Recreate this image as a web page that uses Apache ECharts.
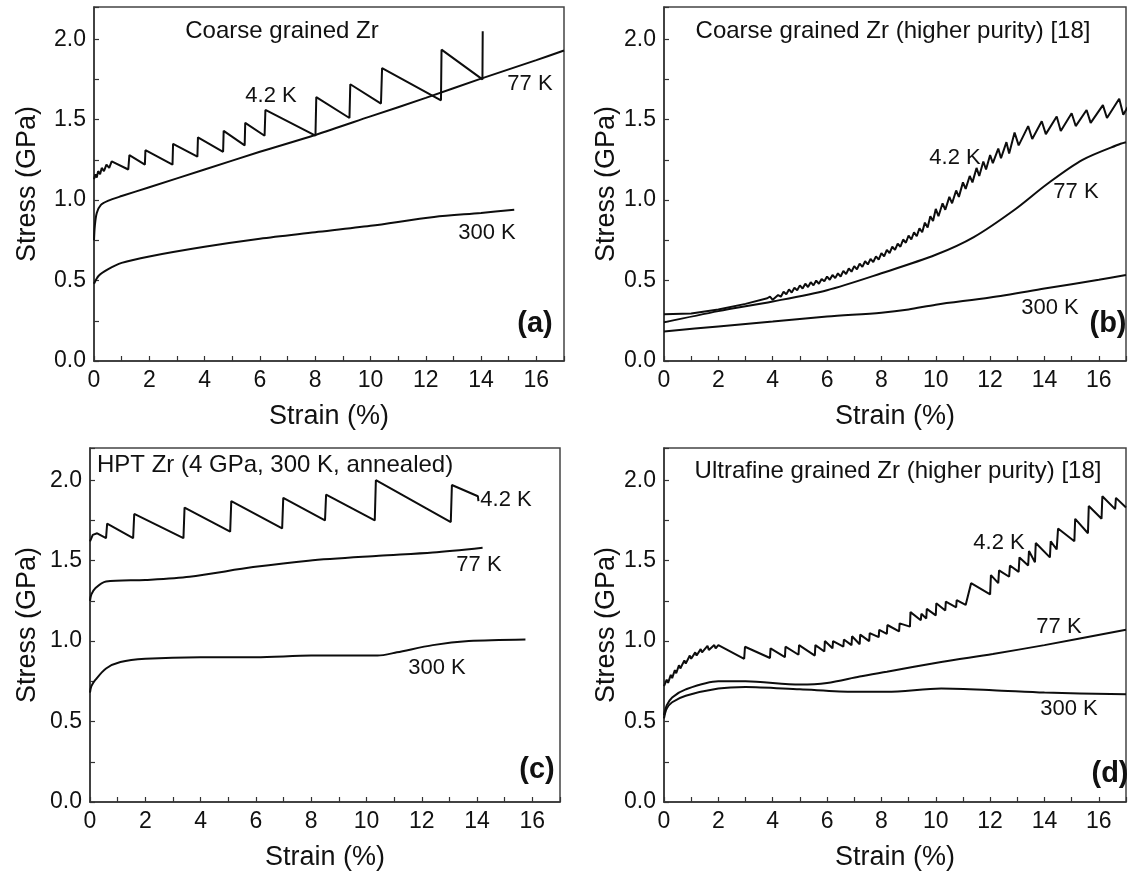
<!DOCTYPE html>
<html>
<head>
<meta charset="utf-8">
<script src="https://cdn.jsdelivr.net/npm/echarts@6/dist/echarts.min.js"></script>
<style>
  html, body { margin: 0; padding: 0; background: #fff; }
  #main { width: 1129px; height: 877px; }
</style>
</head>
<body>
<div id="main"></div>
<script>
// (a) coarse grained Zr
var a300 = [[0,0.48],[0.17,0.53],[0.5,0.57],[1,0.61],[2,0.65],[4,0.71],[6,0.76],[8,0.8],[10,0.84],[12.3,0.895],[14,0.92],[15.2,0.94]];
var a77 = [[0,0.75],[0.03,0.84],[0.1,0.92],[0.25,0.97],[0.5,0.995],[1,1.025],[2,1.08],[4,1.19],[6,1.3],[8,1.405],[10,1.52],[12,1.635],[14,1.755],[16,1.87],[17,1.93]];
var a4K = [[0,1.13],[0.05,1.16],[0.1,1.14],[0.15,1.18],[0.22,1.16],[0.28,1.2],[0.36,1.18],[0.45,1.22],[0.55,1.2],[0.64,1.24],[1.24,1.19],[1.28,1.28],[1.84,1.22],[1.86,1.31],[2.84,1.22],[2.86,1.35],[3.74,1.27],[3.76,1.39],[4.67,1.3],[4.69,1.43],[5.45,1.34],[5.47,1.48],[6.17,1.4],[6.2,1.56],[8.01,1.4],[8.04,1.64],[9.24,1.51],[9.27,1.72],[10.38,1.6],[10.42,1.82],[12.55,1.62],[12.57,1.935],[14.05,1.75],[14.06,2.05]];

// (b) coarse grained Zr, higher purity
var b300 = [[0,0.183],[2,0.215],[4,0.245],[6,0.276],[8,0.3],[9,0.32],[10,0.35],[12,0.395],[14,0.45],[16,0.505],[17,0.535]];
var b77 = [[0,0.24],[2,0.31],[4,0.37],[6,0.44],[8,0.545],[10,0.66],[11.4,0.77],[12.9,0.94],[14.1,1.1],[15.4,1.25],[16.8,1.35],[17,1.36]];
var b4K = [[0,0.29],[1,0.295],[2,0.32],[3,0.355],[3.8,0.39],[3.9,0.4],[4,0.38],[4.2,0.41],[4.3,0.4],[4.4,0.43],[4.5,0.415],[4.6,0.445],[4.7,0.425],[4.8,0.455],[4.9,0.44],[5,0.47],[5.1,0.45],[5.2,0.48],[5.3,0.46],[5.4,0.49],[5.5,0.47],[5.6,0.5],[5.7,0.48],[5.8,0.51],[5.9,0.495],[6,0.525],[6.1,0.505],[6.2,0.535],[6.3,0.515],[6.4,0.545],[6.5,0.525],[6.6,0.56],[6.7,0.54],[6.8,0.575],[6.9,0.555],[7,0.59],[7.1,0.57],[7.2,0.605],[7.3,0.585],[7.4,0.62],[7.5,0.6],[7.6,0.635],[7.7,0.615],[7.8,0.65],[7.9,0.63],[8,0.67],[8.1,0.65],[8.2,0.69],[8.3,0.67],[8.4,0.71],[8.5,0.69],[8.6,0.73],[8.7,0.71],[8.8,0.755],[8.9,0.735],[9,0.78],[9.1,0.755],[9.2,0.8],[9.3,0.775],[9.4,0.825],[9.5,0.8],[9.6,0.86],[9.7,0.83],[9.8,0.9],[9.9,0.87],[10,0.945],[10.1,0.9],[10.25,0.98],[10.35,0.94],[10.5,1.02],[10.6,0.98],[10.75,1.06],[10.85,1.02],[11,1.11],[11.1,1.07],[11.25,1.15],[11.35,1.11],[11.5,1.2],[11.6,1.15],[11.75,1.24],[11.85,1.19],[12,1.28],[12.1,1.23],[12.3,1.32],[12.4,1.26],[12.6,1.36],[12.7,1.29],[12.9,1.42],[13.05,1.34],[13.4,1.46],[13.55,1.38],[13.9,1.49],[14.05,1.41],[14.45,1.52],[14.6,1.43],[15,1.54],[15.15,1.46],[15.55,1.56],[15.7,1.48],[16.15,1.59],[16.3,1.51],[16.75,1.63],[16.9,1.53],[17.2,1.62]];

// (c) HPT Zr
var c300 = [[0,0.68],[0.05,0.72],[0.2,0.76],[0.58,0.83],[1.1,0.87],[2,0.89],[4,0.9],[6,0.9],[8,0.91],[10.4,0.91],[11.1,0.93],[12.4,0.975],[13.7,1],[15.75,1.01]];
var c77 = [[0,1.25],[0.05,1.29],[0.2,1.33],[0.58,1.37],[2,1.38],[3.6,1.4],[5.9,1.46],[7.9,1.5],[10.45,1.53],[12.4,1.55],[14.2,1.58]];
var c4K = [[0,1.62],[0.1,1.66],[0.26,1.67],[0.58,1.64],[0.62,1.73],[1.56,1.64],[1.6,1.79],[3.38,1.64],[3.42,1.83],[5.07,1.68],[5.11,1.87],[6.95,1.7],[6.99,1.89],[8.5,1.75],[8.54,1.91],[10.3,1.75],[10.34,2],[13.05,1.74],[13.09,1.97],[14.03,1.9],[14.05,1.87]];

// (d) ultrafine grained Zr
var d300 = [[0,0.52],[0.1,0.58],[0.3,0.62],[0.8,0.66],[2,0.705],[3,0.715],[5,0.7],[7,0.685],[8.2,0.685],[10.2,0.705],[12.1,0.695],[14,0.68],[17,0.67]];
var d77 = [[0,0.54],[0.1,0.6],[0.3,0.65],[0.8,0.7],[2,0.75],[3,0.75],[5,0.73],[6,0.74],[7.2,0.78],[8.2,0.81],[10.2,0.87],[12.1,0.92],[14,0.975],[17,1.07]];
var d4K = [[0,0.72],[0.1,0.76],[0.15,0.74],[0.25,0.79],[0.3,0.77],[0.4,0.82],[0.45,0.8],[0.55,0.85],[0.6,0.83],[0.75,0.88],[0.8,0.86],[0.95,0.91],[1,0.89],[1.15,0.93],[1.2,0.91],[1.35,0.95],[1.4,0.93],[1.6,0.97],[1.65,0.945],[1.85,0.975],[1.9,0.955],[2,0.975],[2.95,0.89],[2.98,0.965],[3.9,0.895],[3.92,0.955],[4.45,0.9],[4.47,0.965],[4.95,0.915],[4.97,0.975],[5.55,0.91],[5.57,0.975],[5.9,0.935],[5.92,1],[6.2,0.955],[6.22,1],[6.6,0.965],[6.62,1.01],[6.9,0.975],[6.92,1.03],[7.2,0.98],[7.22,1.04],[7.55,1],[7.57,1.05],[7.9,1.025],[7.92,1.07],[8.2,1.045],[8.22,1.1],[8.65,1.06],[8.67,1.11],[9.05,1.09],[9.07,1.18],[9.45,1.13],[9.47,1.17],[9.65,1.14],[9.67,1.2],[10,1.16],[10.02,1.235],[10.35,1.19],[10.37,1.245],[10.75,1.21],[10.77,1.255],[11.1,1.225],[11.3,1.36],[12,1.29],[12.03,1.41],[12.3,1.36],[12.33,1.44],[12.7,1.4],[12.73,1.47],[13.05,1.43],[13.08,1.52],[13.4,1.47],[13.43,1.56],[13.65,1.49],[13.68,1.61],[14.2,1.52],[14.23,1.62],[14.45,1.57],[14.5,1.7],[15.1,1.62],[15.13,1.76],[15.6,1.67],[15.63,1.84],[16.1,1.76],[16.13,1.9],[16.6,1.82],[16.63,1.89],[17,1.83]];

var panelTitles = ['Coarse grained Zr', 'Coarse grained Zr (higher purity) [18]', 'HPT Zr (4 GPa, 300 K, annealed)', 'Ultrafine grained Zr (higher purity) [18]'];
var panelTags = ['(a)', '(b)', '(c)', '(d)'];
var curveNames = ['4.2 K', '77 K', '300 K'];

var font = "'Liberation Sans', Arial, sans-serif";
var ink = '#111';

var chart = echarts.init(document.getElementById('main'), null, { renderer: 'canvas' });

var grids = [
  { left: 94, top: 7, width: 470, height: 354 },
  { left: 664, top: 7, width: 470, height: 354 },
  { left: 90, top: 448, width: 470, height: 354 },
  { left: 664, top: 448, width: 470, height: 354 }
];
grids.forEach(function (g) {
  g.show = true;
  g.borderColor = '#444';
  g.borderWidth = 1.5;
  g.containLabel = false;
});

var yNameGaps = [53, 42, 49, 41];

function xAxisFor(i) {
  return {
    type: 'value', gridIndex: i, min: 0, max: 17, interval: 1,
    name: 'Strain (%)', nameLocation: 'middle', nameGap: 42,
    nameTextStyle: { fontSize: 27, color: ink, fontFamily: font },
    axisLine: { show: true, onZero: false, lineStyle: { color: '#333', width: 1.5 } },
    axisTick: { show: true, inside: true, length: 5, lineStyle: { color: '#333', width: 1.2 } },
    axisLabel: {
      fontSize: 23, color: ink, fontFamily: font, margin: 8,
      formatter: function (v) { return (v % 2 === 0 && v <= 16) ? String(v) : ''; }
    },
    splitLine: { show: false }
  };
}

function yAxisFor(i) {
  return {
    type: 'value', gridIndex: i, min: 0, max: 2.2, interval: 0.25,
    name: 'Stress (GPa)', nameLocation: 'middle', nameGap: yNameGaps[i], nameRotate: 90,
    nameTextStyle: { fontSize: 27, color: ink, fontFamily: font },
    axisLine: { show: true, onZero: false, lineStyle: { color: '#333', width: 1.5 } },
    axisTick: { show: true, inside: true, length: 5, lineStyle: { color: '#333', width: 1.2 } },
    axisLabel: {
      fontSize: 23, color: ink, fontFamily: font, margin: 8,
      formatter: function (v) {
        var h = v * 2;
        return (Math.abs(h - Math.round(h)) < 1e-9 && v <= 2.0001) ? v.toFixed(1) : '';
      }
    },
    splitLine: { show: false }
  };
}

function curve(i, name, data, smooth) {
  return {
    type: 'line', name: name, xAxisIndex: i, yAxisIndex: i,
    data: data, showSymbol: false, smooth: smooth ? 0.3 : false,
    lineStyle: { color: '#0d0d0d', width: 2 },
    silent: true, clip: true
  };
}

var series = [
  curve(0, '4.2 K', a4K, false), curve(0, '77 K', a77, true), curve(0, '300 K', a300, true),
  curve(1, '4.2 K', b4K, false), curve(1, '77 K', b77, true), curve(1, '300 K', b300, true),
  curve(2, '4.2 K', c4K, false), curve(2, '77 K', c77, true), curve(2, '300 K', c300, true),
  curve(3, '4.2 K', d4K, false), curve(3, '77 K', d77, true), curve(3, '300 K', d300, true)
];

function txt(s, x, y, size, opts) {
  opts = opts || {};
  return {
    type: 'text', x: x, y: y, silent: true,
    style: {
      text: s, fill: ink,
      font: (opts.bold ? 'bold ' : '') + size + 'px ' + font,
      align: opts.align || 'center', verticalAlign: 'middle'
    }
  };
}

var labels = [
  // (a)
  txt(panelTitles[0], 282, 31, 24), txt(curveNames[0], 271, 96, 22), txt(curveNames[1], 530, 84, 22),
  txt(curveNames[2], 487, 233, 22), txt(panelTags[0], 535, 324, 29, { bold: true }),
  // (b)
  txt(panelTitles[1], 893, 31, 24), txt(curveNames[0], 955, 158, 22), txt(curveNames[1], 1076, 192, 22),
  txt(curveNames[2], 1050, 308, 22), txt(panelTags[1], 1108, 324, 29, { bold: true }),
  // (c)
  txt(panelTitles[2], 97, 465, 24, { align: 'left' }), txt(curveNames[0], 506, 500, 22), txt(curveNames[1], 479, 565, 22),
  txt(curveNames[2], 437, 668, 22), txt(panelTags[2], 537, 770, 29, { bold: true }),
  // (d)
  txt(panelTitles[3], 898, 471, 24), txt(curveNames[0], 999, 543, 22), txt(curveNames[1], 1059, 627, 22),
  txt(curveNames[2], 1069, 709, 22), txt(panelTags[3], 1110, 774, 29, { bold: true })
];

chart.setOption({
  backgroundColor: '#ffffff',
  animation: false,
  grid: grids,
  xAxis: [xAxisFor(0), xAxisFor(1), xAxisFor(2), xAxisFor(3)],
  yAxis: [yAxisFor(0), yAxisFor(1), yAxisFor(2), yAxisFor(3)],
  series: series,
  graphic: labels
});
</script>
</body>
</html>
